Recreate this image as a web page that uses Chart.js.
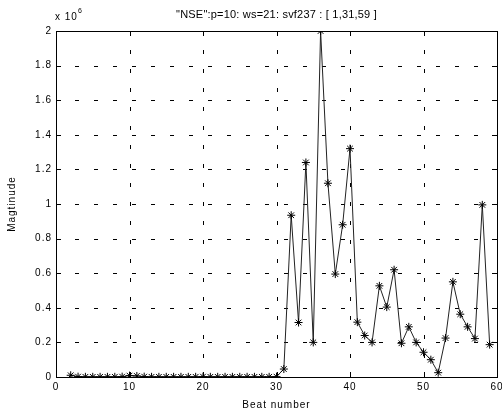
<!DOCTYPE html>
<html>
<head>
<meta charset="utf-8">
<script src="https://cdn.jsdelivr.net/npm/chart.js@4"></script>
<style>
  html, body { margin: 0; padding: 0; background: #fff; }
  #wrap { width: 502px; height: 418px; }
</style>
</head>
<body>
<div id="wrap"><canvas id="chart" width="502" height="418"></canvas></div>
<script>
// beat numbers and magnitudes (in units of 1e6)
const beats = [2, 3, 4, 5, 6, 7, 8, 9, 10, 11, 12, 13, 14, 15, 16, 17, 18, 19, 20,
  21, 22, 23, 24, 25, 26, 27, 28, 29, 30, 31, 32, 33, 34, 35, 36, 37, 38, 39, 40,
  41, 42, 43, 44, 45, 46, 47, 48, 49, 50, 51, 52, 53, 54, 55, 56, 57, 58, 59];
const magnitude = [0.01, 0.002, 0.001, 0.001, 0.001, 0.001, 0.001, 0.002, 0.008, 0.006,
  0.002, 0.001, 0.001, 0.001, 0.001, 0.001, 0.001, 0.001, 0.002,
  0.001, 0.001, 0.001, 0.001, 0.001, 0.001, 0.001, 0.001, 0.001, 0.002,
  0.046, 0.935, 0.315, 1.24, 0.2, 2.0, 1.12, 0.595, 0.88, 1.32,
  0.317, 0.24, 0.2, 0.527, 0.404, 0.62, 0.195, 0.29, 0.2, 0.143,
  0.10, 0.025, 0.225, 0.55, 0.363, 0.29, 0.222, 0.995, 0.187];
const titleText = '"NSE":p=10: ws=21: svf237 : [ 1,31,59 ]';
const xTicks = [0, 10, 20, 30, 40, 50, 60];
const yTicks = [0, 0.2, 0.4, 0.6, 0.8, 1, 1.2, 1.4, 1.6, 1.8, 2];

const font = "'Liberation Sans', Arial, sans-serif";

// matlab-ish look: dashed grid, box with inward ticks, title, exponent label
const matlabPlugin = {
  id: 'matlab',
  beforeLayout(chart) { chart.ctx.letterSpacing = '1px'; },
  beforeDraw(chart) { chart.ctx.letterSpacing = '1px'; },
  beforeDatasetsDraw(chart) {
    const { ctx, chartArea: a, scales } = chart;
    ctx.save();
    ctx.strokeStyle = '#000';
    ctx.lineWidth = 1;
    ctx.setLineDash([4, 15]);
    ctx.beginPath();
    xTicks.slice(1, -1).forEach(v => {
      const x = Math.round(scales.x.getPixelForValue(v)) + 0.5;
      ctx.moveTo(x, a.bottom); ctx.lineTo(x, a.top);
    });
    yTicks.slice(1, -1).forEach(v => {
      const y = Math.round(scales.y.getPixelForValue(v)) + 0.5;
      ctx.moveTo(a.left, y); ctx.lineTo(a.right, y);
    });
    ctx.stroke();
    ctx.restore();
  },
  afterDraw(chart) {
    const { ctx, chartArea: a, scales } = chart;
    ctx.save();
    ctx.strokeStyle = '#000';
    ctx.lineWidth = 1;
    ctx.setLineDash([]);
    ctx.strokeRect(a.left + 0.5, a.top + 0.5, a.right - a.left, a.bottom - a.top);
    ctx.beginPath();
    xTicks.forEach(v => {
      const x = Math.round(scales.x.getPixelForValue(v)) + 0.5;
      ctx.moveTo(x, a.bottom); ctx.lineTo(x, a.bottom - 5);
      ctx.moveTo(x, a.top); ctx.lineTo(x, a.top + 5);
    });
    yTicks.forEach(v => {
      const y = Math.round(scales.y.getPixelForValue(v)) + 0.5;
      ctx.moveTo(a.left, y); ctx.lineTo(a.left + 5, y);
      ctx.moveTo(a.right, y); ctx.lineTo(a.right - 5, y);
    });
    ctx.stroke();

    ctx.fillStyle = '#000';
    ctx.letterSpacing = '0.2px';
    ctx.font = '11px ' + font;
    ctx.textAlign = 'center';
    ctx.textBaseline = 'middle';
    ctx.fillText(titleText, (a.left + a.right) / 2, 15);

    ctx.letterSpacing = '1px';
    ctx.textAlign = 'left';
    ctx.textBaseline = 'alphabetic';
    ctx.font = '10px ' + font;
    ctx.fillText('x 10', a.left - 1, 20);
    ctx.font = '7px ' + font;
    ctx.fillText('6', a.left + 22, 13);
    ctx.restore();
  }
};

new Chart(document.getElementById('chart'), {
  type: 'line',
  data: {
    datasets: [{
      data: beats.map((b, i) => ({ x: b, y: magnitude[i] })),
      borderColor: '#222',
      borderWidth: 1,
      pointStyle: 'star',
      pointRadius: 4,
      pointBorderColor: '#000',
      pointBorderWidth: 1,
      tension: 0,
      fill: false,
    }],
  },
  options: {
    responsive: false,
    animation: false,
    layout: { padding: { top: 31, right: 5, left: 0, bottom: 0 } },
    plugins: {
      legend: { display: false },
      tooltip: { enabled: false },
      title: { display: false },
    },
    scales: {
      x: {
        type: 'linear',
        min: 0,
        max: 60,
        afterFit(s) { s.height = 41; s.paddingLeft = 0; s.paddingRight = 0; },
        afterBuildTicks(s) { s.ticks = xTicks.map(v => ({ value: v })); },
        ticks: { color: '#000', font: { family: font, size: 10 }, padding: 4, maxRotation: 0 },
        grid: { display: false, drawTicks: false },
        border: { display: false },
        title: {
          display: true, text: 'Beat number', color: '#000',
          font: { family: font, size: 10 }, padding: { top: 2, bottom: 7 },
        },
      },
      y: {
        type: 'linear',
        min: 0,
        max: 2,
        afterFit(s) { s.width = 56; s.paddingTop = 0; s.paddingBottom = 0; },
        afterBuildTicks(s) { s.ticks = yTicks.map(v => ({ value: v })); },
        ticks: {
          color: '#000', font: { family: font, size: 10 }, padding: 4,
          callback: v => String(Math.round(v * 10) / 10),
        },
        grid: { display: false, drawTicks: false },
        border: { display: false },
        title: {
          display: true, text: 'Magtinude', color: '#000',
          font: { family: font, size: 10 }, padding: { top: 6, bottom: 0 },
        },
      },
    },
  },
  plugins: [matlabPlugin],
});
</script>
</body>
</html>
